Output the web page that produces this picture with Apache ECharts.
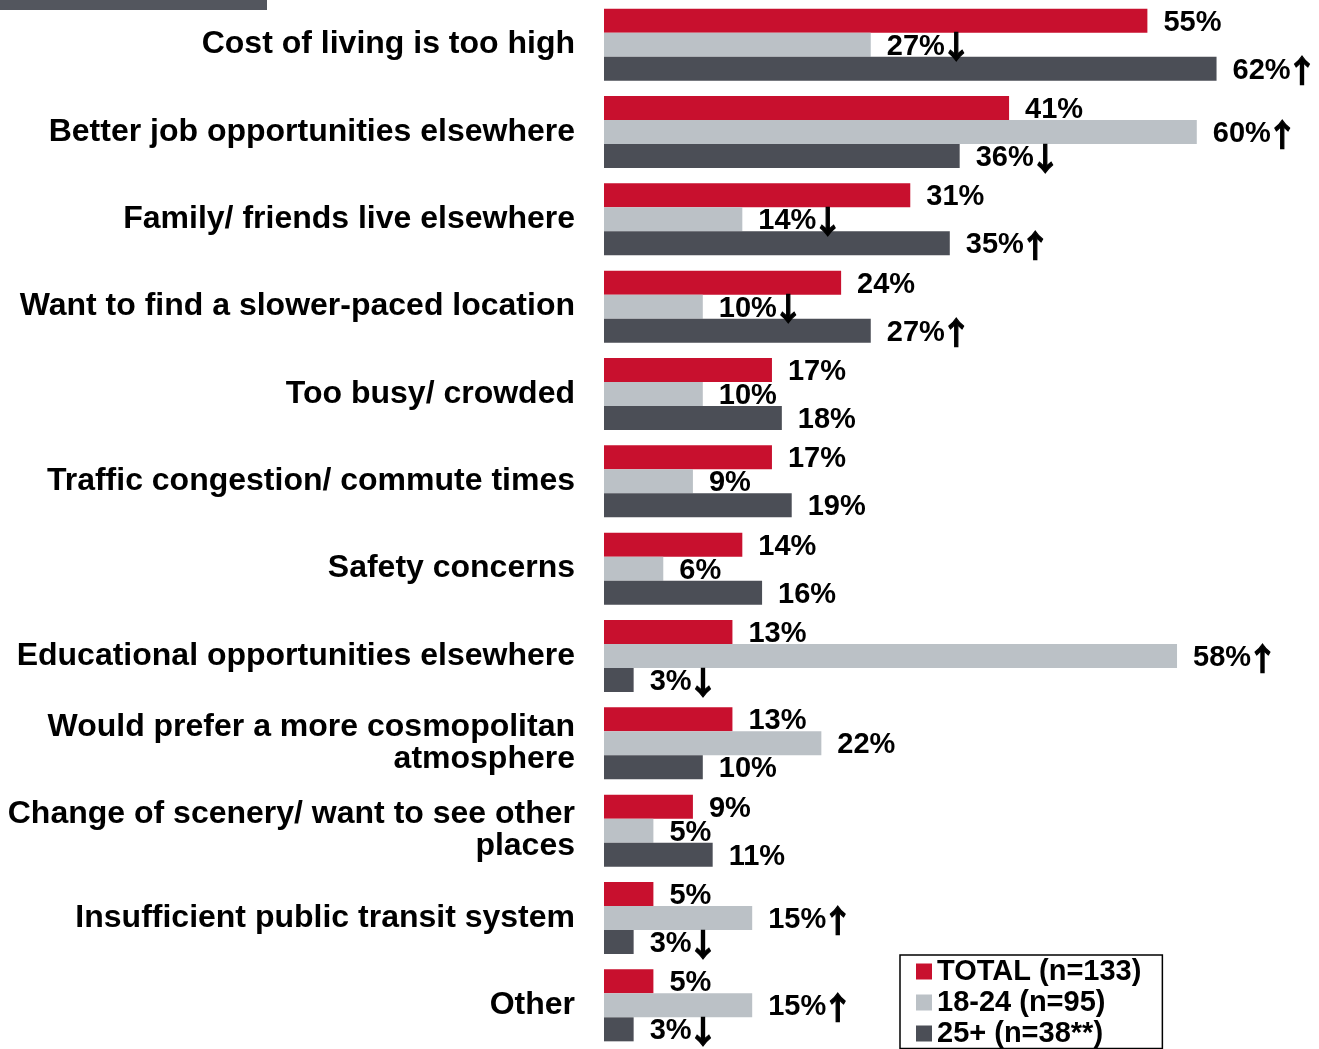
<!DOCTYPE html>
<html>
<head>
<meta charset="utf-8">
<script src="https://cdn.jsdelivr.net/npm/echarts@6/dist/echarts.min.js"></script>
<style>
html,body{margin:0;padding:0;background:#fff;}
#chart{width:1319px;height:1049px;}
</style>
</head>
<body>
<div id="chart"></div>
<script>
const categories = [
  'Cost of living is too high',
  'Better job opportunities elsewhere',
  'Family/ friends live elsewhere',
  'Want to find a slower-paced location',
  'Too busy/ crowded',
  'Traffic congestion/ commute times',
  'Safety concerns',
  'Educational opportunities elsewhere',
  'Would prefer a more cosmopolitan\natmosphere',
  'Change of scenery/ want to see other\nplaces',
  'Insufficient public transit system',
  'Other'
];
const seriesNames = ['TOTAL (n=133)', '18-24 (n=95)', '25+ (n=38**)'];
const totalValues = [55, 41, 31, 24, 17, 17, 14, 13, 13, 9, 5, 5];
const age1824Values = [27, 60, 14, 10, 10, 9, 6, 58, 22, 5, 15, 15];
const age25Values = [62, 36, 35, 27, 18, 19, 16, 3, 10, 11, 3, 3];
const totalMarks = ['', '', '', '', '', '', '', '', '', '', '', ''];
const age1824Marks = ['↓', '↑', '↓', '↓', '', '', '', '↑', '', '', '↑', '↑'];
const age25Marks = ['↑', '↓', '↑', '↑', '', '', '', '↓', '', '', '↓', '↓'];
const colors = ['#C8102E', '#BBC1C6', '#4B4E56'];

const FONT = '"Liberation Sans", Arial, sans-serif';

function makeSeries(name, values, marks, color) {
  return {
    name: name,
    type: 'bar',
    barWidth: 24,
    barGap: '0%',
    itemStyle: { color: color },
    data: values,
    label: {
      show: true,
      position: 'right',
      distance: 16,
      offset: [0, 2],
      color: '#000',
      fontFamily: FONT,
      fontWeight: 'bold',
      fontSize: 29,
      formatter: function (p) {
        const m = marks[p.dataIndex];
        return p.value + '%' + (m ? '{a|' + m + '}' : '');
      },
      rich: {
        a: {
          fontFamily: '"Noto Sans CJK SC", "DejaVu Sans", sans-serif',
          fontWeight: 'bold',
          fontSize: 31,
          color: '#000',
          textBorderColor: '#000',
          textBorderWidth: 1.2,
          padding: [0, 0, 0, -4]
        }
      }
    }
  };
}

const chart = echarts.init(document.getElementById('chart'), null, { renderer: 'canvas' });
chart.setOption({
  backgroundColor: '#fff',
  animation: false,
  color: colors,
  graphic: [{
    type: 'rect',
    left: 0, top: 0,
    shape: { width: 267, height: 10 },
    style: { fill: '#53565E' }
  }],
  legend: {
    orient: 'vertical',
    left: 900,
    top: 955,
    padding: [1.5, 21, 0, 16],
    itemGap: 1,
    itemWidth: 16,
    itemHeight: 16,
    icon: 'rect',
    borderColor: '#000',
    borderWidth: 1.5,
    backgroundColor: '#fff',
    data: seriesNames,
    textStyle: {
      color: '#000',
      fontFamily: FONT,
      fontWeight: 'bold',
      fontSize: 29,
      lineHeight: 30
    }
  },
  grid: {
    left: 604,
    top: 1,
    right: 0,
    height: 1052,
    containLabel: false
  },
  xAxis: {
    type: 'value',
    min: 0,
    max: 72.37,
    show: false,
    splitLine: { show: false }
  },
  yAxis: {
    type: 'category',
    inverse: true,
    data: categories,
    axisLine: { show: false },
    axisTick: { show: false },
    axisLabel: {
      margin: 29,
      color: '#000',
      fontFamily: FONT,
      fontWeight: 'bold',
      fontSize: 32,
      lineHeight: 32,
      align: 'right'
    }
  },
  series: [
    makeSeries(seriesNames[0], totalValues, totalMarks, colors[0]),
    makeSeries(seriesNames[1], age1824Values, age1824Marks, colors[1]),
    makeSeries(seriesNames[2], age25Values, age25Marks, colors[2])
  ]
});
</script>
</body>
</html>
